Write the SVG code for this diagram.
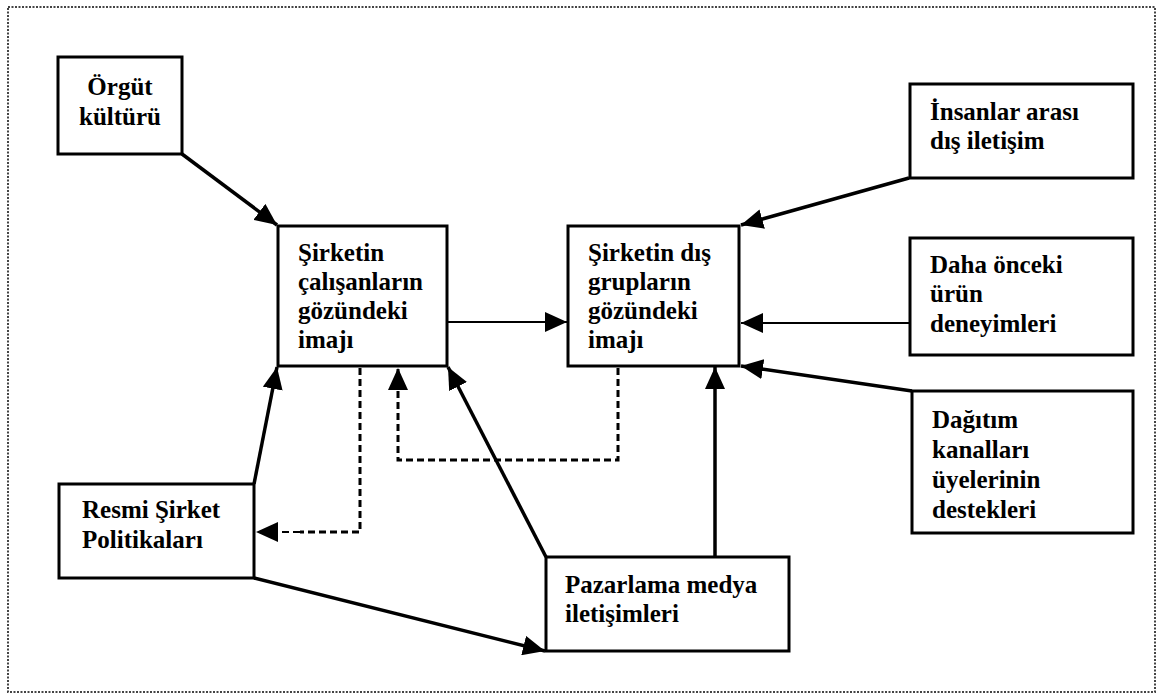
<svg xmlns="http://www.w3.org/2000/svg" width="1160" height="700" viewBox="0 0 1160 700">
<style>
.box{fill:#fff;stroke:#000;stroke-width:3}
.t{font-family:"Liberation Serif","Times New Roman",serif;font-weight:bold;font-size:25px;fill:#000}
.c{text-anchor:middle}
.solid{fill:none;stroke:#000;stroke-width:3.5}
.thin{fill:none;stroke:#000;stroke-width:2.2}
.dash{fill:none;stroke:#000;stroke-width:3;stroke-dasharray:7,4}
.dashthin{fill:none;stroke:#000;stroke-width:2.2;stroke-dasharray:7,4}
</style>
<defs>
<marker id="ah" viewBox="0 0 22 20" refX="22" refY="10" markerWidth="22" markerHeight="20" markerUnits="userSpaceOnUse" orient="auto">
<path d="M0,0 L22,10 L0,20 z" fill="#000"/>
</marker>
</defs>
<rect x="0" y="0" width="1160" height="700" fill="#fff"/>
<rect x="8" y="7" width="1147" height="685" fill="none" stroke="#444" stroke-width="2" stroke-dasharray="2,1.5"/>

<g id="connectors">
<line class="solid" x1="182" y1="154" x2="277" y2="225" marker-end="url(#ah)"/>
<line class="thin" x1="448" y1="322" x2="567" y2="322" marker-end="url(#ah)"/>
<line class="solid" x1="909" y1="178" x2="741" y2="225" marker-end="url(#ah)"/>
<line class="thin" x1="909" y1="323" x2="741" y2="323" marker-end="url(#ah)"/>
<line class="solid" x1="912" y1="391" x2="741" y2="366" marker-end="url(#ah)"/>
<line class="solid" x1="715" y1="557" x2="715" y2="367" marker-end="url(#ah)"/>
<line class="solid" x1="546" y1="557" x2="448" y2="367" marker-end="url(#ah)"/>
<line class="solid" x1="254" y1="484" x2="277" y2="367" marker-end="url(#ah)"/>
<line class="solid" x1="254" y1="578" x2="545" y2="651" marker-end="url(#ah)"/>
<polyline class="dash" points="360,368 360,532 300,532"/>
<line class="dashthin" x1="300" y1="532" x2="256" y2="532" marker-end="url(#ah)"/>
<polyline class="dash" points="618,368 618,460 398,460 398,368" marker-end="url(#ah)"/>
</g>

<g id="orgut">
<rect class="box" x="58" y="57" width="124" height="97"/>
<text class="t c" x="120" y="95">Örgüt</text>
<text class="t c" x="120" y="125">kültürü</text>
</g>

<g id="calisanlar">
<rect class="box" x="278" y="226" width="169" height="140"/>
<text class="t" x="298" y="261">Şirketin</text>
<text class="t" x="298" y="290">çalışanların</text>
<text class="t" x="298" y="319">gözündeki</text>
<text class="t" x="298" y="348">imajı</text>
</g>

<g id="disgruplar">
<rect class="box" x="568" y="226" width="171" height="140"/>
<text class="t" x="588" y="261">Şirketin dış</text>
<text class="t" x="588" y="290">grupların</text>
<text class="t" x="588" y="319">gözündeki</text>
<text class="t" x="588" y="348">imajı</text>
</g>

<g id="insanlar">
<rect class="box" x="910" y="84" width="223" height="94"/>
<text class="t" x="930" y="120">İnsanlar arası</text>
<text class="t" x="930" y="149">dış iletişim</text>
</g>

<g id="dahaonceki">
<rect class="box" x="910" y="238" width="223" height="117"/>
<text class="t" x="930" y="273">Daha önceki</text>
<text class="t" x="930" y="302">ürün</text>
<text class="t" x="930" y="332">deneyimleri</text>
</g>

<g id="dagitim">
<rect class="box" x="912" y="391" width="221" height="142"/>
<text class="t" x="932" y="428">Dağıtım</text>
<text class="t" x="932" y="458">kanalları</text>
<text class="t" x="932" y="488">üyelerinin</text>
<text class="t" x="932" y="518">destekleri</text>
</g>

<g id="resmi">
<rect class="box" x="59" y="484" width="195" height="94"/>
<text class="t" x="82" y="518">Resmi Şirket</text>
<text class="t" x="82" y="548">Politikaları</text>
</g>

<g id="pazarlama">
<rect class="box" x="546" y="557" width="243" height="94"/>
<text class="t" x="565" y="593">Pazarlama medya</text>
<text class="t" x="565" y="622">iletişimleri</text>
</g>
</svg>
